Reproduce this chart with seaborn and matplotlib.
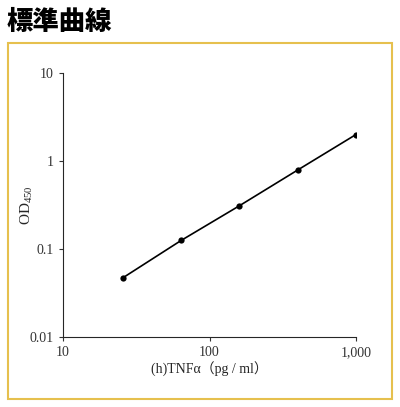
import numpy as np
import matplotlib
matplotlib.use("Agg")
import matplotlib.pyplot as plt
import seaborn as sns
from matplotlib.patches import Rectangle
from matplotlib.ticker import FixedLocator, NullLocator

sns.set_style("ticks")
plt.rcParams['font.family'] = ['Liberation Serif', 'Noto Sans CJK JP']

# standard curve values
conc = [25.6, 64, 160, 400, 1000]
od = [0.047, 0.125, 0.31, 0.79, 2.0]
x_ticks = [10, 100, 1000]
x_labels = ["10", "100", "1,000"]
y_ticks = [0.01, 0.1, 1, 10]
y_labels = ["0.01", "0.1", "1", "10"]

fig = plt.figure(figsize=(4, 4.07), dpi=100)
fig.patches.append(Rectangle((8/400, 1-399/407), 384/400, 356/407, transform=fig.transFigure,
                             fill=False, edgecolor="#e6c04e", linewidth=1.5))
fig.text(7/400, 1-22/407, "標準曲線", fontsize=19, fontweight="black", va="center",
         color="black", family=['Noto Sans CJK JP'])

ax = fig.add_axes([63/400, 1-337/407, 293/400, 264/407])
sns.lineplot(x=conc, y=od, ax=ax, color="black", linewidth=1.2, marker="o",
             markersize=4.5, markeredgewidth=0)
ax.set_xscale("log")
ax.set_yscale("log")
ax.set_xlim(10, 1000)
ax.set_ylim(0.01, 10)
ax.xaxis.set_major_locator(FixedLocator(x_ticks))
ax.set_xticklabels(x_labels)
ax.yaxis.set_major_locator(FixedLocator(y_ticks))
ax.set_yticklabels(y_labels)
ax.xaxis.set_minor_locator(NullLocator())
ax.yaxis.set_minor_locator(NullLocator())
ax.tick_params(labelsize=10, length=3, width=0.8, colors="#333333")
for s in ["top", "right"]:
    ax.spines[s].set_visible(False)
ax.set_xlabel("(h)TNFα（pg / ml）", fontsize=10, labelpad=2)
ax.set_ylabel("OD$_{\\mathregular{450}}$", fontsize=11, labelpad=-4)

fig.savefig("out.png", dpi=100)
